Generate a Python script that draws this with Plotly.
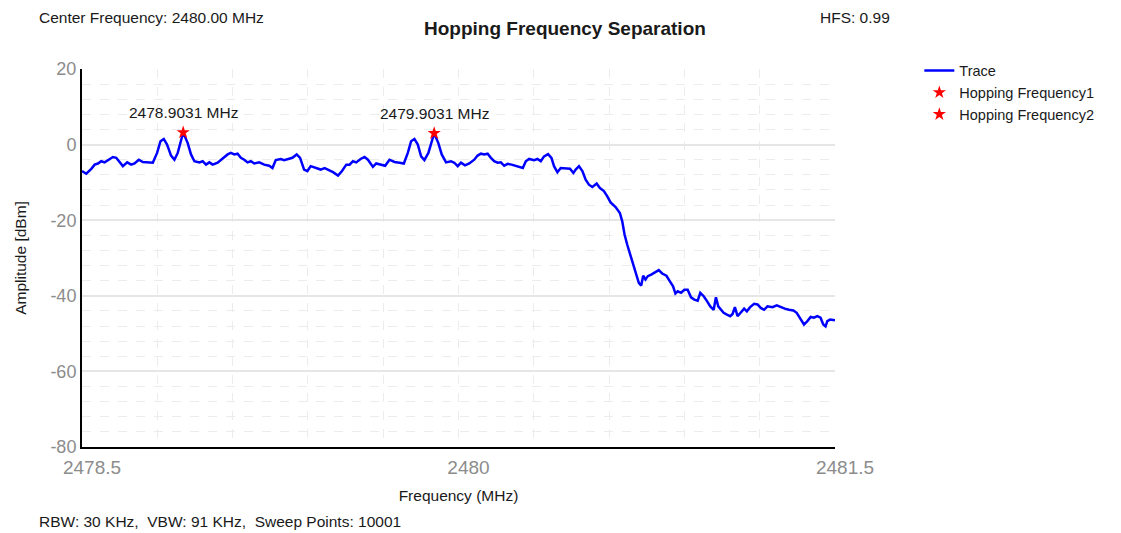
import plotly.graph_objects as go

# spectrum trace (MHz, dBm)
freq_mhz = [
    2478.5000, 2478.5171, 2478.5370, 2478.5505, 2478.5636, 2478.5767, 2478.5902, 2478.6033,
    2478.6232, 2478.6363, 2478.6498, 2478.6629, 2478.6800, 2478.6959, 2478.7094, 2478.7265,
    2478.7424, 2478.7622, 2478.7821, 2478.7992, 2478.8127, 2478.8258, 2478.8389, 2478.8548,
    2478.8683, 2478.8814, 2478.8945, 2478.9031, 2478.9212, 2478.9343, 2478.9478, 2478.9677,
    2478.9808, 2478.9939, 2479.0074, 2479.0205, 2479.0404, 2479.0602, 2479.0801, 2479.0932,
    2479.1067, 2479.1198, 2479.1329, 2479.1465, 2479.1596, 2479.1727, 2479.1862, 2479.2061,
    2479.2259, 2479.2458, 2479.2589, 2479.2720, 2479.2919, 2479.3054, 2479.3213, 2479.3384,
    2479.3554, 2479.3689, 2479.3848, 2479.3980, 2479.4111, 2479.4309, 2479.4508, 2479.4667,
    2479.4803, 2479.5001, 2479.5200, 2479.5359, 2479.5530, 2479.5661, 2479.5796, 2479.5927,
    2479.6098, 2479.6257, 2479.6392, 2479.6591, 2479.6722, 2479.6920, 2479.7079, 2479.7250,
    2479.7449, 2479.7648, 2479.7822, 2479.7981, 2479.8112, 2479.8244, 2479.8379, 2479.8510,
    2479.8641, 2479.8800, 2479.8935, 2479.9031, 2479.9197, 2479.9332, 2479.9503, 2479.9702,
    2479.9833, 2479.9968, 2480.0099, 2480.0258, 2480.0429, 2480.0627, 2480.0762, 2480.0894,
    2480.1025, 2480.1160, 2480.1291, 2480.1422, 2480.1557, 2480.1688, 2480.1820, 2480.1955,
    2480.2114, 2480.2285, 2480.2455, 2480.2563, 2480.2682, 2480.2813, 2480.3012, 2480.3147,
    2480.3278, 2480.3409, 2480.3568, 2480.3703, 2480.3806, 2480.3941, 2480.4072, 2480.4271,
    2480.4442, 2480.4577, 2480.4669, 2480.4800, 2480.4935, 2480.5066, 2480.5197, 2480.5333,
    2480.5503, 2480.5634, 2480.5793, 2480.5928, 2480.6059, 2480.6258, 2480.6429, 2480.6524,
    2480.6616, 2480.6723, 2480.6854, 2480.6961, 2480.7093, 2480.7184, 2480.7279, 2480.7359,
    2480.7450, 2480.7542, 2480.7677, 2480.7808, 2480.7979, 2480.8114, 2480.8285, 2480.8416,
    2480.8549, 2480.8642, 2480.8733, 2480.8868, 2480.8999, 2480.9130, 2480.9264, 2480.9395,
    2480.9530, 2480.9633, 2480.9769, 2480.9900, 2481.0031, 2481.0166, 2481.0257, 2481.0349,
    2481.0456, 2481.0563, 2481.0694, 2481.0825, 2481.0920, 2481.1011, 2481.1118, 2481.1250,
    2481.1381, 2481.1488, 2481.1619, 2481.1778, 2481.1913, 2481.2044, 2481.2175, 2481.2310,
    2481.2509, 2481.2680, 2481.2839, 2481.2998, 2481.3168, 2481.3343, 2481.3474, 2481.3633,
    2481.3764, 2481.3900, 2481.4031, 2481.4162, 2481.4293, 2481.4424, 2481.4532, 2481.4623,
    2481.4694, 2481.4801, 2481.4960, 2481.5000,
]
amp_dbm = [
    -7.0, -7.7, -6.4, -5.3, -5.0, -4.4, -4.7, -4.1,
    -3.3, -3.5, -4.7, -5.7, -4.7, -5.3, -5.0, -4.0,
    -4.6, -4.8, -4.8, -2.2, 0.9, 1.5, 0.0, -2.9,
    -4.0, -2.2, 1.3, 3.2, 0.4, -2.6, -4.4, -4.7,
    -4.4, -5.3, -4.7, -5.3, -4.8, -3.8, -2.6, -2.2,
    -2.6, -2.4, -3.5, -4.0, -4.7, -4.4, -5.0, -4.7,
    -5.3, -5.6, -6.2, -4.1, -3.8, -4.1, -3.8, -3.5,
    -2.6, -3.5, -6.6, -7.0, -5.7, -6.2, -6.6, -6.2,
    -6.6, -7.3, -8.2, -7.0, -5.3, -5.3, -4.4, -4.7,
    -3.8, -3.3, -4.0, -5.9, -5.0, -5.3, -5.6, -4.0,
    -4.6, -4.8, -5.0, -2.2, 0.9, 1.5, 0.0, -3.1,
    -4.1, -2.2, 1.3, 3.0, 0.4, -2.6, -4.7, -4.4,
    -4.8, -5.7, -4.8, -5.5, -5.0, -4.0, -2.9, -2.4,
    -2.6, -2.4, -3.5, -4.4, -4.8, -4.7, -5.6, -5.1,
    -5.3, -5.7, -5.9, -6.2, -4.4, -3.8, -4.1, -3.8,
    -4.4, -3.1, -2.5, -3.5, -5.7, -7.3, -6.2, -6.2,
    -6.4, -7.5, -6.6, -5.7, -7.0, -9.3, -10.6, -11.2,
    -10.3, -11.5, -12.3, -13.7, -15.3, -16.5, -18.1, -20.3,
    -23.8, -26.5, -29.4, -32.2, -34.8, -36.6, -37.3, -34.7,
    -35.7, -34.8, -34.4, -33.8, -33.2, -34.1, -34.7, -36.1,
    -37.5, -39.4, -38.8, -39.2, -38.4, -38.4, -40.4, -41.0,
    -41.3, -39.2, -40.1, -41.4, -42.8, -43.7, -40.4, -42.8,
    -43.7, -44.5, -45.0, -45.4, -44.8, -43.0, -45.4, -44.5,
    -43.4, -44.1, -43.0, -42.1, -42.3, -43.2, -43.7, -42.8,
    -43.0, -42.5, -43.0, -43.4, -43.7, -43.9, -44.5, -46.3,
    -47.6, -46.7, -45.6, -45.8, -45.4, -45.8, -47.6, -48.1,
    -46.7, -46.3, -46.6, -46.5,
]

hop_names = ["Hopping Frequency1", "Hopping Frequency2"]
hop_freq = [2478.9031, 2479.9031]
hop_amp = [3.2, 3.0]

x_ticks = [2478.5, 2480, 2481.5]
x_ticktext = ["2478.5", "2480", "2481.5"]
y_ticks = [-80, -60, -40, -20, 0, 20]
y_ticktext = ["-80", "-60", "-40", "-20", "0", "20"]

FONT = "Liberation Sans, Arial, sans-serif"
TXT = "#1a1a1a"

fig = go.Figure()

fig.add_trace(
    go.Scatter(
        x=freq_mhz, y=amp_dbm, mode="lines", name="Trace",
        line=dict(color="#0000ff", width=2.5),
    )
)

for name, f, a in zip(hop_names, hop_freq, hop_amp):
    fig.add_trace(
        go.Scatter(
            x=[f], y=[a], mode="markers", name=name,
            marker=dict(symbol="star", size=10, color="#ff0000"),
        )
    )
    fig.add_annotation(
        x=f, y=a, yshift=20, text=f"{f:.4f} MHz", showarrow=False,
        font=dict(family=FONT, size=15.5, color=TXT),
    )

# header / footer texts
fig.add_annotation(
    x=-0.0596, y=1.135, xref="paper", yref="paper", xanchor="left", yanchor="middle",
    text="Center Frequency: 2480.00 MHz", showarrow=False,
    font=dict(family=FONT, size=15.5, color=TXT),
)
fig.add_annotation(
    x=0.9775, y=1.135, xref="paper", yref="paper", xanchor="left", yanchor="middle",
    text="HFS: 0.99", showarrow=False,
    font=dict(family=FONT, size=15.5, color=TXT),
)
fig.add_annotation(
    x=-0.0596, y=-0.198, xref="paper", yref="paper", xanchor="left", yanchor="middle",
    text="RBW: 30 KHz,  VBW: 91 KHz,  Sweep Points: 10001", showarrow=False,
    font=dict(family=FONT, size=15.5, color=TXT),
)

# page body has an 8px margin, so the figure is 8px smaller than the window
fig.update_layout(
    width=1113, height=525,
    margin=dict(l=72, r=286, t=61, b=86),
    paper_bgcolor="white", plot_bgcolor="white",
    title=dict(
        text="<b>Hopping Frequency Separation</b>", x=0.5004, xanchor="center",
        y=0.962, yanchor="middle", font=dict(family=FONT, size=19, color=TXT),
    ),
    legend=dict(
        x=1.112, y=1.038, xanchor="left", yanchor="top",
        font=dict(family=FONT, size=14.5, color=TXT), tracegroupgap=0,
        bgcolor="rgba(0,0,0,0)",
    ),
    xaxis=dict(
        range=[2478.5, 2481.5], tickvals=x_ticks, ticktext=x_ticktext,
        showline=True, linecolor="black", linewidth=2, zeroline=False,
        showgrid=True, gridcolor="#ececec", griddash="dash", gridwidth=1,
        minor=dict(tick0=2478.5, dtick=0.3, showgrid=True, gridcolor="#ececec",
                   griddash="dash", gridwidth=1),
        tickfont=dict(family=FONT, size=19, color="#8c8c8c"),
        ticklabelshift=10, ticklabelstandoff=2,
        title=dict(text="Frequency (MHz)", standoff=13, font=dict(family=FONT, size=15.5, color=TXT)),
    ),
    yaxis=dict(
        range=[-80, 20], tickvals=y_ticks, ticktext=y_ticktext,
        showline=True, linecolor="black", linewidth=2, zeroline=False,
        showgrid=True, gridcolor="#e6e6e6", gridwidth=1.5,
        minor=dict(dtick=4, showgrid=True, gridcolor="#ececec", griddash="dash", gridwidth=1),
        tickfont=dict(family=FONT, size=18, color="#8c8c8c"),
        title=dict(text="Amplitude [dBm]", standoff=20, font=dict(family=FONT, size=15.5, color=TXT)),
    ),
)

fig.write_html("out.html")
